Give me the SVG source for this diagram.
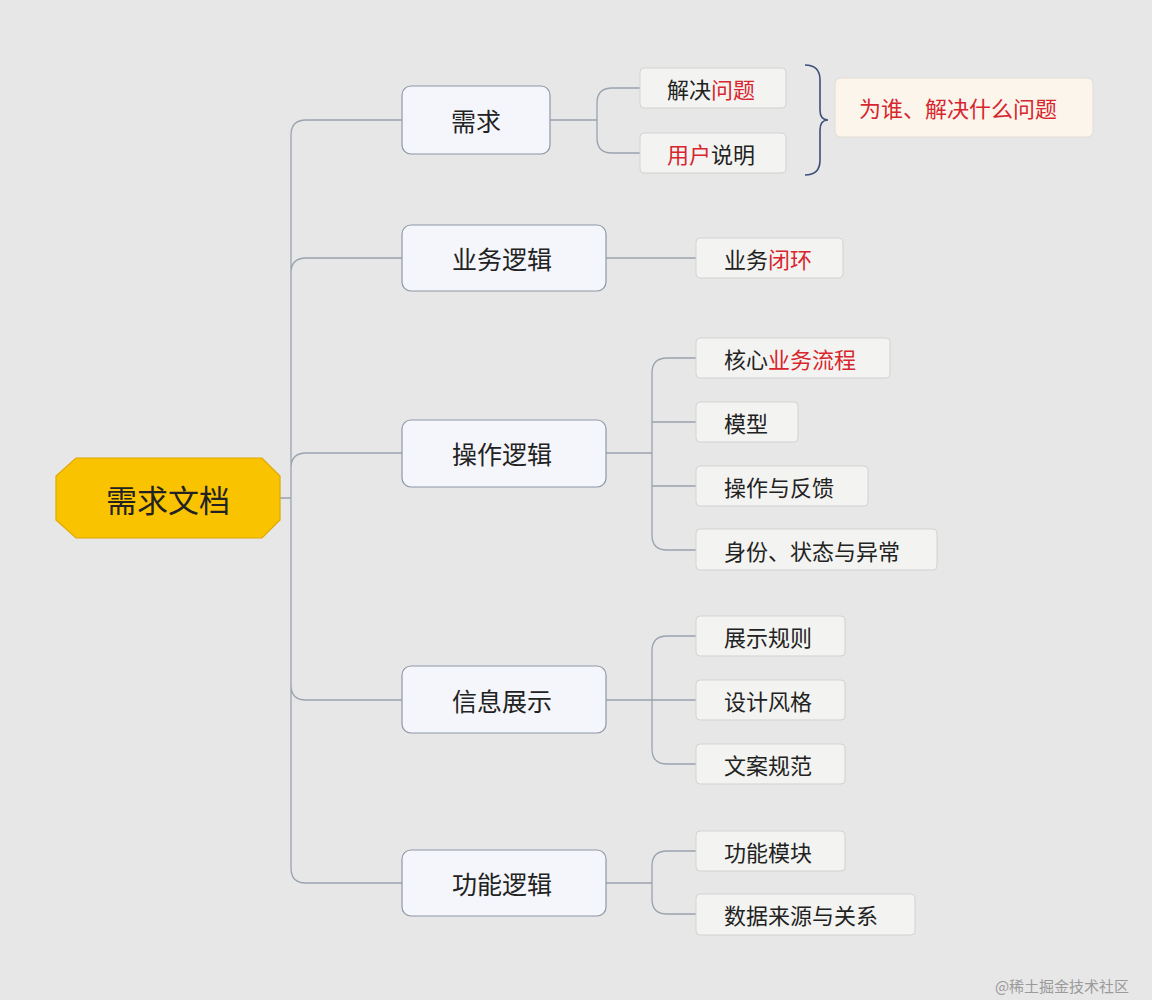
<svg xmlns="http://www.w3.org/2000/svg" width="1152" height="1000" viewBox="0 0 1152 1000">
<style>
text{font-family:"Noto Sans CJK SC","Noto Sans",sans-serif;fill:#222;dominant-baseline:central;text-anchor:middle}
.b{fill:#f4f6fb;stroke:#8e98a8;stroke-width:1.2}
.l{fill:#f3f4f1;stroke:#d0d3d0;stroke-width:1}
.bt{font-size:25px}
.lt{font-size:22px;text-anchor:start}
.r{fill:#d8262e}
.c{fill:none;stroke:#9aa3ae;stroke-width:1.3}
</style>
<rect width="1152" height="1000" fill="#e7e7e7"/>
<g id="connectors" class="c">
<path d="M280 498H291M291 498V135Q291 120 306 120H402M291 273Q291 258 306 258H402M291 468Q291 453 306 453H402M291 498V685Q291 700 306 700H402M291 498V868Q291 883 306 883H402"/>
<path d="M550 120H597M640 88H612Q597 88 597 103V138Q597 153 612 153H640"/>
<path d="M606 258H696"/>
<path d="M606 453H652M696 358H667Q652 358 652 373V535Q652 550 667 550H696M652 422H696M652 486H696"/>
<path d="M606 700H652M696 636H667Q652 636 652 651V749Q652 764 667 764H696M652 700H696"/>
<path d="M606 883H652M696 851H667Q652 851 652 866V899Q652 914 667 914H696"/>
<path d="M805 65Q820 65 820 80V110Q820 120 828 120Q820 120 820 130V160Q820 175 805 175" stroke="#3d4f7a" stroke-width="1.6"/>
</g>
<g id="root"><polygon points="76,458 262,458 280,476 280,520 262,538 76,538 56,520 56,476" fill="#f9c300" stroke="#e0a800" stroke-width="1.2"/><text x="168" y="498" font-size="31">需求文档</text></g>
<g id="n1"><rect class="b" x="402" y="86" width="148" height="68" rx="9"/><text class="bt" x="476" y="120">需求</text></g>
<g id="n2"><rect class="b" x="402" y="225" width="204" height="66" rx="9"/><text class="bt" x="502" y="258">业务逻辑</text></g>
<g id="n3"><rect class="b" x="402" y="420" width="204" height="67" rx="9"/><text class="bt" x="502" y="453">操作逻辑</text></g>
<g id="n4"><rect class="b" x="402" y="666" width="204" height="67" rx="9"/><text class="bt" x="502" y="700">信息展示</text></g>
<g id="n5"><rect class="b" x="402" y="850" width="204" height="66" rx="9"/><text class="bt" x="502" y="883">功能逻辑</text></g>
<g id="l1"><rect class="l" x="640" y="68" width="146" height="40" rx="4"/><text class="lt" x="667" y="88">解决<tspan class="r">问题</tspan></text></g>
<g id="l2"><rect class="l" x="640" y="133" width="146" height="40" rx="4"/><text class="lt" x="667" y="153"><tspan class="r">用户</tspan>说明</text></g>
<g id="note"><rect x="835" y="78" width="258" height="59" rx="6" fill="#fbf5ec" stroke="#e3ddd3"/><text class="lt r" x="859" y="107">为谁、解决什么问题</text></g>
<g id="l3"><rect class="l" x="696" y="238" width="147" height="40" rx="4"/><text class="lt" x="724" y="258">业务<tspan class="r">闭环</tspan></text></g>
<g id="l4"><rect class="l" x="696" y="338" width="194" height="40" rx="4"/><text class="lt" x="724" y="358">核心<tspan class="r">业务流程</tspan></text></g>
<g id="l5"><rect class="l" x="696" y="402" width="102" height="40" rx="4"/><text class="lt" x="724" y="422">模型</text></g>
<g id="l6"><rect class="l" x="696" y="466" width="172" height="40" rx="4"/><text class="lt" x="724" y="486">操作与反馈</text></g>
<g id="l7"><rect class="l" x="696" y="529" width="241" height="41" rx="4"/><text class="lt" x="724" y="550">身份、状态与异常</text></g>
<g id="l8"><rect class="l" x="696" y="616" width="149" height="40" rx="4"/><text class="lt" x="724" y="636">展示规则</text></g>
<g id="l9"><rect class="l" x="696" y="680" width="149" height="40" rx="4"/><text class="lt" x="724" y="700">设计风格</text></g>
<g id="l10"><rect class="l" x="696" y="744" width="149" height="40" rx="4"/><text class="lt" x="724" y="764">文案规范</text></g>
<g id="l11"><rect class="l" x="696" y="831" width="149" height="40" rx="4"/><text class="lt" x="724" y="851">功能模块</text></g>
<g id="l12"><rect class="l" x="696" y="894" width="219" height="41" rx="4"/><text class="lt" x="724" y="914">数据来源与关系</text></g>
<text x="1062" y="985" font-size="15" style="fill:#9a9a9a">@稀土掘金技术社区</text>
</svg>
